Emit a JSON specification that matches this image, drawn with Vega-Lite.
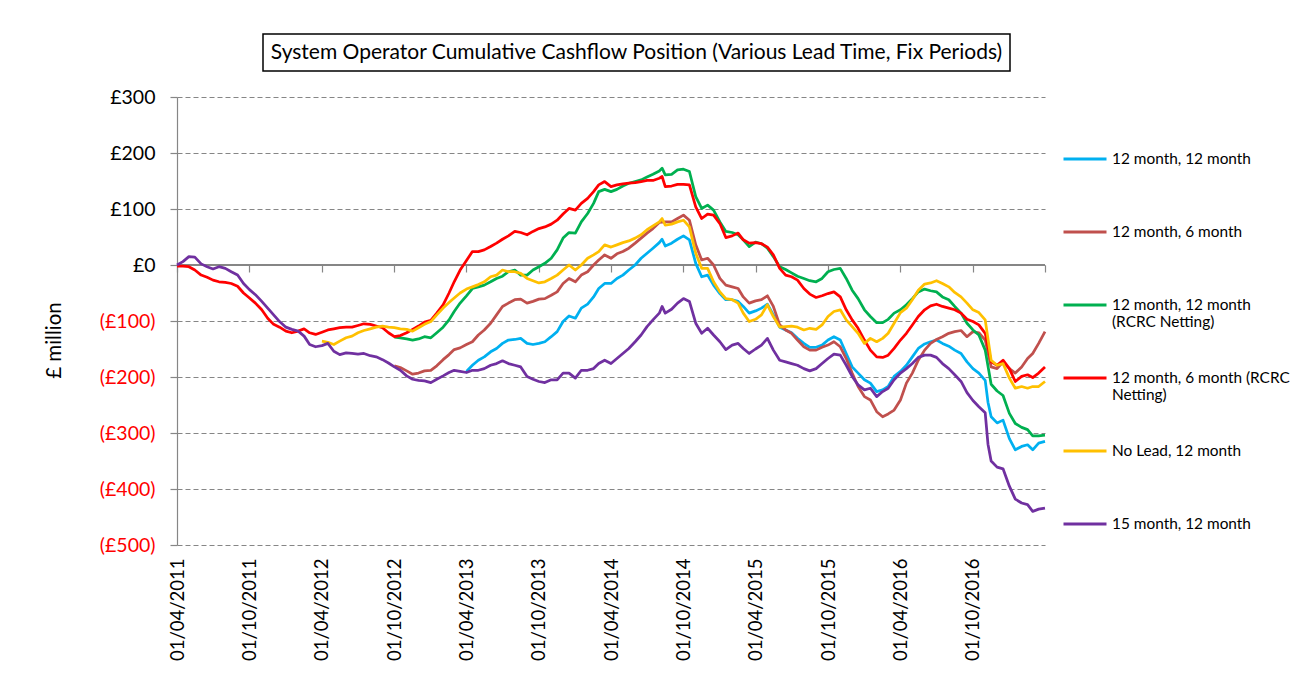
{
  "$schema": "https://vega.github.io/schema/vega-lite/v6.json",
  "background": "white",
  "padding": {"left": 44, "top": 33, "right": 5, "bottom": 5},
  "spacing": 15,
  "resolve": {"scale": {"color": "independent"}, "legend": {"color": "independent"}},
  "config": {
    "font": "Lato",
    "view": {"stroke": null},
    "axis": {"labelFont": "Lato", "titleFont": "Lato"},
    "legend": {"labelFont": "Lato"},
    "text": {"font": "Lato"}
  },
  "vconcat": [
    {
      "spacing": 0,
      "hconcat": [
        {
          "width": 85,
          "height": 37,
          "data": {"values": []},
          "mark": {"type": "point", "opacity": 0},
          "encoding": {}
        },
        {
          "width": 747,
          "height": 37,
          "view": {"stroke": "#000000", "strokeWidth": 1.5},
          "data": {"values": [{"t": "System Operator Cumulative Cashflow Position (Various Lead Time, Fix Periods)"}]},
          "mark": {"type": "text", "fontSize": 21, "color": "#000000"},
          "encoding": {"text": {"field": "t"}}
        }
      ]
    },
    {
      "width": 868,
      "height": 448,
      "data": {"values": [
        {"date": "2017-04-01", "a": -315, "b": -119, "c": -304, "d": -182, "e": -208, "f": -434},
        {"date": "2011-04-01", "d": -2, "f": 0},
        {"date": "2011-04-16", "d": -2, "f": 6},
        {"date": "2011-05-01", "d": -3, "f": 15},
        {"date": "2011-05-16", "d": -9, "f": 14},
        {"date": "2011-06-01", "d": -18, "f": 2},
        {"date": "2011-06-16", "d": -22, "f": -3},
        {"date": "2011-07-01", "d": -27, "f": -7},
        {"date": "2011-07-16", "d": -30, "f": -3},
        {"date": "2011-08-01", "d": -31, "f": -6},
        {"date": "2011-08-16", "d": -33, "f": -12},
        {"date": "2011-09-01", "d": -38, "f": -18},
        {"date": "2011-09-16", "d": -50, "f": -33},
        {"date": "2011-10-01", "d": -59, "f": -44},
        {"date": "2011-10-16", "d": -68, "f": -53},
        {"date": "2011-11-01", "d": -80, "f": -65},
        {"date": "2011-11-16", "d": -95, "f": -77},
        {"date": "2011-12-01", "d": -106, "f": -89},
        {"date": "2011-12-16", "d": -111, "f": -101},
        {"date": "2012-01-01", "d": -118, "f": -111},
        {"date": "2012-01-16", "d": -121, "f": -115},
        {"date": "2012-02-01", "d": -118, "f": -118},
        {"date": "2012-02-16", "d": -114, "f": -127},
        {"date": "2012-03-01", "d": -121, "f": -142},
        {"date": "2012-03-16", "d": -124, "f": -146},
        {"date": "2012-04-01", "d": -120, "e": -136, "f": -144},
        {"date": "2012-04-16", "d": -116, "e": -138, "f": -140},
        {"date": "2012-05-01", "d": -114, "e": -142, "f": -154},
        {"date": "2012-05-16", "d": -112, "e": -136, "f": -160},
        {"date": "2012-06-01", "d": -111, "e": -130, "f": -157},
        {"date": "2012-06-16", "d": -111, "e": -127, "f": -158},
        {"date": "2012-07-01", "d": -108, "e": -121, "f": -159},
        {"date": "2012-07-16", "d": -105, "e": -117, "f": -158},
        {"date": "2012-08-01", "d": -106, "e": -114, "f": -162},
        {"date": "2012-08-16", "d": -109, "e": -111, "f": -164},
        {"date": "2012-09-01", "d": -112, "e": -109, "f": -169},
        {"date": "2012-09-16", "d": -121, "e": -111, "f": -175},
        {"date": "2012-10-01", "b": -180, "c": -129, "d": -128, "e": -112, "f": -182},
        {"date": "2012-10-16", "b": -183, "c": -130, "d": -126, "e": -114, "f": -188},
        {"date": "2012-11-01", "b": -189, "c": -132, "d": -121, "e": -115, "f": -198},
        {"date": "2012-11-16", "b": -195, "c": -134, "d": -115, "e": -118, "f": -204},
        {"date": "2012-12-01", "b": -193, "c": -132, "d": -109, "e": -112, "f": -206},
        {"date": "2012-12-16", "b": -189, "c": -128, "d": -102, "e": -106, "f": -207},
        {"date": "2013-01-01", "b": -188, "c": -130, "d": -99, "e": -101, "f": -210},
        {"date": "2013-01-16", "b": -180, "c": -121, "d": -86, "e": -89, "f": -204},
        {"date": "2013-02-01", "b": -169, "c": -111, "d": -71, "e": -77, "f": -198},
        {"date": "2013-02-16", "b": -160, "c": -98, "d": -50, "e": -67, "f": -192},
        {"date": "2013-03-01", "b": -151, "c": -83, "d": -30, "e": -59, "f": -188},
        {"date": "2013-03-16", "b": -148, "c": -68, "d": -9, "e": -50, "f": -190},
        {"date": "2013-04-01", "a": -190, "b": -142, "c": -55, "d": 8, "e": -43, "f": -192},
        {"date": "2013-04-16", "a": -179, "b": -137, "c": -42, "d": 24, "e": -39, "f": -188},
        {"date": "2013-05-01", "a": -170, "b": -125, "c": -39, "d": 24, "e": -35, "f": -188},
        {"date": "2013-05-16", "a": -164, "b": -116, "c": -36, "d": 27, "e": -30, "f": -185},
        {"date": "2013-06-01", "a": -155, "b": -104, "c": -30, "d": 33, "e": -21, "f": -179},
        {"date": "2013-06-16", "a": -149, "b": -89, "c": -24, "d": 39, "e": -18, "f": -176},
        {"date": "2013-07-01", "a": -140, "b": -74, "c": -20, "d": 46, "e": -9, "f": -171},
        {"date": "2013-07-16", "a": -134, "b": -68, "c": -12, "d": 52, "e": -12, "f": -176},
        {"date": "2013-08-01", "a": -133, "b": -62, "c": -9, "d": 60, "e": -12, "f": -179},
        {"date": "2013-08-16", "a": -131, "b": -61, "c": -18, "d": 58, "e": -15, "f": -182},
        {"date": "2013-09-01", "a": -140, "b": -68, "c": -18, "d": 54, "e": -24, "f": -199},
        {"date": "2013-09-16", "a": -142, "b": -65, "c": -9, "d": 60, "e": -28, "f": -204},
        {"date": "2013-10-01", "a": -140, "b": -61, "c": -3, "d": 65, "e": -32, "f": -208},
        {"date": "2013-10-16", "a": -137, "b": -60, "c": 3, "d": 68, "e": -30, "f": -210},
        {"date": "2013-11-01", "a": -128, "b": -54, "c": 12, "d": 73, "e": -24, "f": -205},
        {"date": "2013-11-16", "a": -119, "b": -48, "c": 27, "d": 80, "e": -18, "f": -205},
        {"date": "2013-12-01", "a": -101, "b": -33, "c": 48, "d": 91, "e": -9, "f": -193},
        {"date": "2013-12-16", "a": -91, "b": -24, "c": 58, "d": 101, "e": 0, "f": -193},
        {"date": "2014-01-01", "a": -95, "b": -30, "c": 57, "d": 98, "e": -9, "f": -202},
        {"date": "2014-01-16", "a": -77, "b": -18, "c": 77, "d": 110, "e": 0, "f": -188},
        {"date": "2014-02-01", "a": -70, "b": -12, "c": 92, "d": 119, "e": 12, "f": -188},
        {"date": "2014-02-16", "a": -57, "b": 0, "c": 110, "d": 131, "e": 18, "f": -185},
        {"date": "2014-03-01", "a": -42, "b": 9, "c": 131, "d": 143, "e": 24, "f": -176},
        {"date": "2014-03-16", "a": -33, "b": 18, "c": 135, "d": 149, "e": 36, "f": -170},
        {"date": "2014-04-01", "a": -33, "b": 12, "c": 131, "d": 140, "e": 32, "f": -176},
        {"date": "2014-04-16", "a": -24, "b": 20, "c": 135, "d": 143, "e": 36, "f": -167},
        {"date": "2014-05-01", "a": -18, "b": 24, "c": 141, "d": 145, "e": 40, "f": -158},
        {"date": "2014-05-16", "a": -9, "b": 30, "c": 146, "d": 146, "e": 43, "f": -149},
        {"date": "2014-06-01", "a": 0, "b": 39, "c": 149, "d": 147, "e": 48, "f": -137},
        {"date": "2014-06-16", "a": 12, "b": 48, "c": 152, "d": 149, "e": 54, "f": -125},
        {"date": "2014-07-01", "a": 21, "b": 57, "c": 157, "d": 151, "e": 63, "f": -110},
        {"date": "2014-07-16", "a": 30, "b": 65, "c": 162, "d": 151, "e": 70, "f": -98},
        {"date": "2014-08-01", "a": 40, "b": 76, "c": 168, "d": 155, "e": 77, "f": -86},
        {"date": "2014-08-08", "a": 46, "c": 173, "d": 158, "e": 83, "f": -74},
        {"date": "2014-08-16", "a": 34, "b": 77, "c": 161, "d": 140, "e": 71, "f": -86},
        {"date": "2014-09-01", "a": 39, "b": 77, "c": 162, "d": 141, "e": 73, "f": -79},
        {"date": "2014-09-16", "a": 46, "b": 83, "c": 170, "d": 144, "e": 77, "f": -68},
        {"date": "2014-10-01", "a": 52, "b": 89, "c": 171, "d": 144, "e": 80, "f": -60},
        {"date": "2014-10-16", "a": 45, "b": 80, "c": 167, "d": 143, "e": 68, "f": -65},
        {"date": "2014-11-01", "a": 3, "b": 36, "c": 122, "d": 104, "e": 21, "f": -104},
        {"date": "2014-11-16", "a": -21, "b": 9, "c": 101, "d": 83, "e": -6, "f": -122},
        {"date": "2014-12-01", "a": -18, "b": 12, "c": 107, "d": 91, "e": -6, "f": -113},
        {"date": "2014-12-16", "a": -36, "b": 0, "c": 98, "d": 89, "e": -30, "f": -125},
        {"date": "2015-01-01", "a": -51, "b": -24, "c": 77, "d": 74, "e": -48, "f": -137},
        {"date": "2015-01-16", "a": -62, "b": -36, "c": 60, "d": 49, "e": -60, "f": -151},
        {"date": "2015-02-01", "a": -62, "b": -39, "c": 58, "d": 52, "e": -62, "f": -143},
        {"date": "2015-02-16", "a": -65, "b": -42, "c": 54, "d": 57, "e": -68, "f": -140},
        {"date": "2015-03-01", "a": -74, "b": -57, "c": 45, "d": 45, "e": -86, "f": -149},
        {"date": "2015-03-16", "a": -86, "b": -68, "c": 33, "d": 39, "e": -101, "f": -158},
        {"date": "2015-04-01", "a": -82, "b": -64, "c": 41, "d": 40, "e": -97, "f": -150},
        {"date": "2015-04-16", "a": -77, "b": -62, "c": 38, "d": 38, "e": -89, "f": -143},
        {"date": "2015-05-01", "a": -70, "b": -55, "c": 30, "d": 32, "e": -71, "f": -131},
        {"date": "2015-05-16", "a": -89, "b": -74, "c": 15, "d": 18, "e": -92, "f": -152},
        {"date": "2015-06-01", "a": -111, "b": -107, "c": -3, "d": -6, "e": -111, "f": -170},
        {"date": "2015-06-16", "a": -116, "b": -116, "c": -8, "d": -18, "e": -110, "f": -173},
        {"date": "2015-07-01", "a": -121, "b": -122, "c": -14, "d": -21, "e": -109, "f": -176},
        {"date": "2015-07-16", "a": -131, "b": -134, "c": -20, "d": -27, "e": -111, "f": -179},
        {"date": "2015-08-01", "a": -140, "b": -146, "c": -24, "d": -42, "e": -116, "f": -185},
        {"date": "2015-08-16", "a": -147, "b": -152, "c": -28, "d": -52, "e": -113, "f": -189},
        {"date": "2015-09-01", "a": -147, "b": -152, "c": -30, "d": -58, "e": -115, "f": -185},
        {"date": "2015-09-16", "a": -143, "b": -147, "c": -24, "d": -55, "e": -107, "f": -176},
        {"date": "2015-10-01", "a": -134, "b": -143, "c": -12, "d": -51, "e": -92, "f": -167},
        {"date": "2015-10-16", "a": -128, "b": -137, "c": -8, "d": -48, "e": -83, "f": -159},
        {"date": "2015-11-01", "a": -134, "b": -146, "c": -6, "d": -57, "e": -80, "f": -161},
        {"date": "2015-11-16", "a": -158, "b": -167, "c": -24, "d": -80, "e": -98, "f": -179},
        {"date": "2015-12-01", "a": -182, "b": -193, "c": -45, "d": -98, "e": -110, "f": -199},
        {"date": "2015-12-16", "a": -193, "b": -217, "c": -60, "d": -113, "e": -122, "f": -214},
        {"date": "2016-01-01", "a": -205, "b": -235, "c": -80, "d": -134, "e": -140, "f": -223},
        {"date": "2016-01-16", "a": -211, "b": -241, "c": -92, "d": -152, "e": -131, "f": -220},
        {"date": "2016-02-01", "a": -226, "b": -262, "c": -103, "d": -164, "e": -137, "f": -235},
        {"date": "2016-02-16", "a": -223, "b": -271, "c": -103, "d": -165, "e": -131, "f": -226},
        {"date": "2016-03-01", "a": -217, "b": -266, "c": -97, "d": -161, "e": -122, "f": -220},
        {"date": "2016-03-16", "a": -199, "b": -259, "c": -86, "d": -149, "e": -104, "f": -205},
        {"date": "2016-04-01", "a": -190, "b": -241, "c": -80, "d": -134, "e": -85, "f": -193},
        {"date": "2016-04-16", "a": -179, "b": -211, "c": -71, "d": -122, "e": -77, "f": -185},
        {"date": "2016-05-01", "a": -164, "b": -193, "c": -60, "d": -107, "e": -62, "f": -176},
        {"date": "2016-05-16", "a": -149, "b": -170, "c": -48, "d": -92, "e": -45, "f": -165},
        {"date": "2016-06-01", "a": -141, "b": -152, "c": -43, "d": -80, "e": -34, "f": -161},
        {"date": "2016-06-16", "a": -137, "b": -140, "c": -46, "d": -73, "e": -32, "f": -161},
        {"date": "2016-07-01", "a": -134, "b": -133, "c": -48, "d": -70, "e": -28, "f": -165},
        {"date": "2016-07-16", "a": -140, "b": -128, "c": -57, "d": -74, "e": -33, "f": -176},
        {"date": "2016-08-01", "a": -145, "b": -122, "c": -62, "d": -77, "e": -39, "f": -185},
        {"date": "2016-08-16", "a": -152, "b": -119, "c": -74, "d": -80, "e": -49, "f": -196},
        {"date": "2016-09-01", "a": -158, "b": -117, "c": -86, "d": -86, "e": -57, "f": -208},
        {"date": "2016-09-16", "a": -173, "b": -128, "c": -104, "d": -97, "e": -68, "f": -228},
        {"date": "2016-10-01", "a": -185, "b": -119, "c": -116, "d": -101, "e": -80, "f": -242},
        {"date": "2016-10-16", "a": -193, "b": -121, "c": -125, "d": -107, "e": -85, "f": -253},
        {"date": "2016-11-01", "a": -206, "b": -134, "c": -152, "d": -122, "e": -98, "f": -264},
        {"date": "2016-11-08", "a": -245, "f": -320},
        {"date": "2016-11-16", "a": -271, "b": -182, "c": -213, "d": -173, "e": -170, "f": -350},
        {"date": "2016-12-01", "a": -282, "b": -185, "c": -225, "d": -179, "e": -179, "f": -361},
        {"date": "2016-12-16", "a": -277, "b": -173, "c": -233, "d": -170, "e": -176, "f": -364},
        {"date": "2017-01-01", "a": -310, "b": -185, "c": -265, "d": -185, "e": -202, "f": -395},
        {"date": "2017-01-16", "a": -330, "b": -193, "c": -283, "d": -208, "e": -220, "f": -418},
        {"date": "2017-02-01", "a": -324, "b": -182, "c": -290, "d": -199, "e": -217, "f": -425},
        {"date": "2017-02-16", "a": -321, "b": -167, "c": -294, "d": -196, "e": -220, "f": -428},
        {"date": "2017-03-01", "a": -330, "b": -158, "c": -305, "d": -201, "e": -217, "f": -440},
        {"date": "2017-03-16", "a": -318, "b": -140, "c": -305, "d": -193, "e": -217, "f": -436}
      ]},
      "transform": [
        {"fold": ["a", "b", "c", "d", "e", "f"], "as": ["k", "v"]},
        {"filter": {"field": "v", "valid": true}},
        {"lookup": "k", "from": {"data": {"values": [
          {"k": "a", "s": "12 month, 12 month"},
          {"k": "b", "s": "12 month, 6 month"},
          {"k": "c", "s": "12 month, 12 month (RCRC Netting)"},
          {"k": "d", "s": "12 month, 6 month (RCRC Netting)"},
          {"k": "e", "s": "No Lead, 12 month"},
          {"k": "f", "s": "15 month, 12 month"}
        ]}, "key": "k", "fields": ["s"]}}
      ],
      "resolve": {"axis": {"x": "independent", "y": "independent"}},
      "layer": [
        {
          "mark": {"type": "rule", "color": "#868686", "strokeWidth": 1.2},
          "encoding": {
            "x": {"datum": {"year": 2011, "month": 4, "date": 1, "utc": true}, "type": "temporal",
                  "scale": {"type": "utc", "domain": [{"year": 2011, "month": 4, "date": 1, "utc": true}, {"year": 2017, "month": 4, "date": 1, "utc": true}]},
                  "axis": {"orient": "bottom", "offset": -280, "labels": false, "domain": false, "ticks": true, "tickSize": 7, "tickColor": "#868686", "tickWidth": 1.2, "grid": false, "title": null,
                           "values": [{"year": 2011, "month": 4, "date": 1, "utc": true}, {"year": 2011, "month": 10, "date": 1, "utc": true}, {"year": 2012, "month": 4, "date": 1, "utc": true}, {"year": 2012, "month": 10, "date": 1, "utc": true}, {"year": 2013, "month": 4, "date": 1, "utc": true}, {"year": 2013, "month": 10, "date": 1, "utc": true}, {"year": 2014, "month": 4, "date": 1, "utc": true}, {"year": 2014, "month": 10, "date": 1, "utc": true}, {"year": 2015, "month": 4, "date": 1, "utc": true}, {"year": 2015, "month": 10, "date": 1, "utc": true}, {"year": 2016, "month": 4, "date": 1, "utc": true}, {"year": 2016, "month": 10, "date": 1, "utc": true}, {"year": 2017, "month": 4, "date": 1, "utc": true}]}},
            "x2": {"datum": {"year": 2017, "month": 4, "date": 1, "utc": true}},
            "y": {"datum": 0, "type": "quantitative", "scale": {"domain": [-500, 300]}, "axis": null}
          }
        },
        {
          "mark": {"type": "line", "strokeWidth": 2.75, "strokeJoin": "round"},
          "encoding": {
            "x": {"field": "date", "type": "temporal",
                  "scale": {"type": "utc", "domain": [{"year": 2011, "month": 4, "date": 1, "utc": true}, {"year": 2017, "month": 4, "date": 1, "utc": true}]},
                  "axis": {"orient": "bottom", "domain": false, "ticks": false, "grid": false, "title": null, "labelAngle": -90, "labelPadding": 13, "labelFontSize": 18.5, "labelColor": "#000000",
                           "labelExpr": "utcFormat(datum.value, '%d/%m/%Y')",
                           "values": [{"year": 2011, "month": 4, "date": 1, "utc": true}, {"year": 2011, "month": 10, "date": 1, "utc": true}, {"year": 2012, "month": 4, "date": 1, "utc": true}, {"year": 2012, "month": 10, "date": 1, "utc": true}, {"year": 2013, "month": 4, "date": 1, "utc": true}, {"year": 2013, "month": 10, "date": 1, "utc": true}, {"year": 2014, "month": 4, "date": 1, "utc": true}, {"year": 2014, "month": 10, "date": 1, "utc": true}, {"year": 2015, "month": 4, "date": 1, "utc": true}, {"year": 2015, "month": 10, "date": 1, "utc": true}, {"year": 2016, "month": 4, "date": 1, "utc": true}, {"year": 2016, "month": 10, "date": 1, "utc": true}]}},
            "y": {"field": "v", "type": "quantitative", "scale": {"domain": [-500, 300]},
                  "axis": {"values": [-500, -400, -300, -200, -100, 0, 100, 200, 300],
                           "labelExpr": "datum.value < 0 ? '(£' + format(-datum.value, 'd') + ')' : '£' + format(datum.value, 'd')",
                           "labelColor": {"expr": "datum.value < 0 ? '#ff0000' : '#000000'"},
                           "labelFontSize": 19.5, "labelPadding": 15,
                           "tickSize": 7, "tickColor": "#868686", "tickWidth": 1.2,
                           "domainColor": "#868686", "domainWidth": 1.2,
                           "grid": true, "gridColor": "#868686", "gridDash": [5, 3], "gridWidth": 1.2,
                           "title": "£ million", "titleFontSize": 20.5, "titleFontWeight": "normal", "titleColor": "#000000", "titlePadding": 35, "titleY": 243}},
            "color": {"field": "s", "type": "nominal",
                      "scale": {"domain": ["12 month, 12 month", "12 month, 6 month", "12 month, 12 month (RCRC Netting)", "12 month, 6 month (RCRC Netting)", "No Lead, 12 month", "15 month, 12 month"],
                                "range": ["#00B0F0", "#C0504D", "#00B050", "#FF0000", "#FFC000", "#7030A0"]},
                      "legend": {"title": null, "orient": "none", "legendX": 885, "legendY": 39, "padding": 0,
                                 "symbolType": "stroke", "symbolSize": 1849, "symbolStrokeWidth": 3,
                                 "labelFontSize": 15.4, "labelColor": "#000000", "labelOffset": 4, "labelLimit": 300, "rowPadding": 24,
                                 "labelExpr": "datum.label == '12 month, 12 month (RCRC Netting)' ? ['12 month, 12 month', '(RCRC Netting)'] : datum.label == '12 month, 6 month (RCRC Netting)' ? ['12 month, 6 month (RCRC', 'Netting)'] : [datum.label, '']"}}
          }
        }
      ]
    }
  ]
}
